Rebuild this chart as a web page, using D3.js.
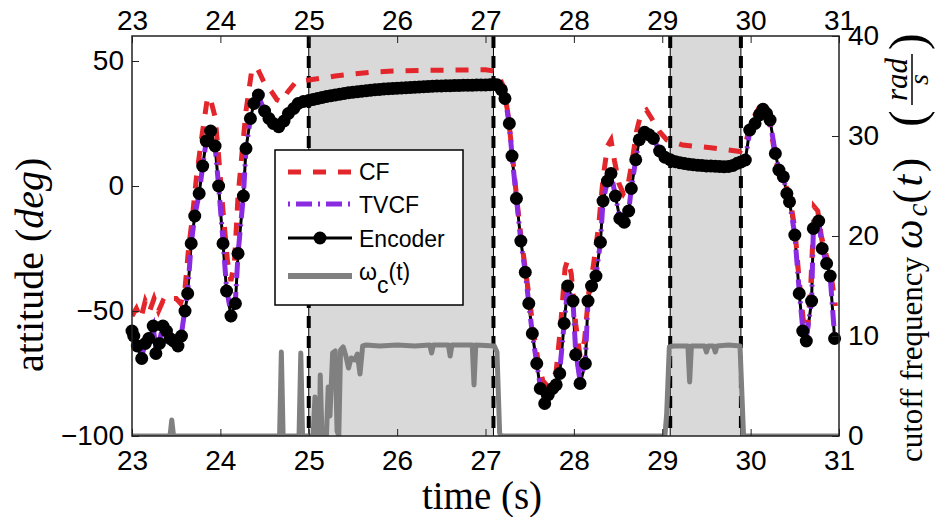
<!DOCTYPE html>
<html>
<head>
<meta charset="utf-8">
<script src="https://cdn.jsdelivr.net/npm/d3@7"></script>
<style>
  body { margin: 0; background: #fff; }
  svg { display: block; }
</style>
</head>
<body>
<svg id="chart" width="935" height="517"></svg>
<script>
// ---- data -------------------------------------------------------------
// Encoder reference attitude (deg)
const encoderTime = [
  23.00, 23.02, 23.06, 23.11, 23.15, 23.19, 23.24, 23.27, 23.31, 23.35, 23.39, 23.43,
  23.47, 23.52, 23.56, 23.60, 23.63, 23.67, 23.71, 23.76, 23.80, 23.84, 23.89, 23.94,
  23.98, 24.03, 24.07, 24.12, 24.17, 24.20, 24.26, 24.29, 24.34, 24.38, 24.43, 24.50,
  24.55, 24.60, 24.66, 24.72, 24.77, 24.83, 24.88, 24.94,
  25.00, 25.05, 25.10, 25.15, 25.20, 25.25, 25.30, 25.35, 25.40, 25.45, 25.50, 25.55,
  25.60, 25.65, 25.70, 25.75, 25.80, 25.85, 25.90, 25.95, 26.00, 26.05, 26.10, 26.15,
  26.20, 26.25, 26.30, 26.35, 26.40, 26.45, 26.50, 26.55, 26.60, 26.65, 26.70, 26.75,
  26.80, 26.85, 26.90, 26.95, 27.00, 27.05, 27.09,
  27.13, 27.18, 27.22, 27.27, 27.30, 27.35, 27.40, 27.45, 27.49, 27.53, 27.58, 27.62,
  27.67, 27.71, 27.76, 27.80, 27.84, 27.89, 27.93, 27.99, 28.02, 28.07, 28.13, 28.16,
  28.20, 28.25, 28.30, 28.33, 28.38, 28.42, 28.47, 28.52, 28.57, 28.62, 28.65, 28.70,
  28.74, 28.80, 28.85, 28.90, 28.97, 29.03, 29.09,
  29.15, 29.20, 29.25, 29.30, 29.35, 29.40, 29.45, 29.50, 29.55, 29.60, 29.65, 29.70,
  29.75, 29.80, 29.85, 29.89,
  29.94, 29.99, 30.05, 30.10, 30.14, 30.18, 30.22, 30.28, 30.32, 30.37, 30.41, 30.44,
  30.50, 30.55, 30.59, 30.63, 30.69, 30.71, 30.77, 30.81, 30.86, 30.90, 30.95
];
const encoderValue = [
  -58, -60, -64, -69, -63, -61, -56, -67, -63, -56, -58, -61,
  -62, -64, -60, -50, -43, -23, -12, -3, 8, 18, 22, 16,
  0, -23, -42, -52, -47, -27, -4, 15, 27, 33, 36.4, 30,
  27, 25, 23.7, 26, 29, 31, 33, 33.8,
  34.2, 34.6, 35.0, 35.4, 35.8, 36.1, 36.4, 36.7, 37.0, 37.3, 37.5, 37.7,
  37.9, 38.1, 38.3, 38.5, 38.6, 38.8, 38.9, 39.0, 39.1, 39.2, 39.3, 39.4,
  39.5, 39.6, 39.7, 39.8, 39.9, 40.0, 40.0, 40.1, 40.1, 40.2, 40.2, 40.3,
  40.3, 40.3, 40.4, 40.4, 40.4, 40.5, 40.6,
  40.5, 38.5, 35, 25, 12, -5, -22, -34.5, -47, -59, -71, -81,
  -87, -83.5, -81, -79.5, -75, -55, -40, -46, -67.5, -79, -71, -46,
  -40, -36, -22.5, -6, 2, 5, -4, -13, -14.5, -10, -1, 10.5,
  18.5, 21.5, 20.5, 19, 14, 11.5, 10.5,
  9.7, 9.3, 9.0, 8.7, 8.5, 8.3, 8.2, 8.0, 8.0, 7.9, 7.8, 7.7,
  7.8, 8.2, 9.1, 9.6,
  10.4, 22.4, 25, 28.5, 30.7, 29, 26.4, 13, 6.4, 3.7, -3, -6.3,
  -19.6, -43, -58, -62, -46, -17, -14, -25, -31, -36, -61
];

// Time-varying complementary filter estimate (deg)
const tvcfTime = encoderTime;
const tvcfValue = [
  -57, -60, -64, -68, -63, -60, -56, -66, -62, -56, -58, -61,
  -62, -63, -59, -49, -42, -23, -12, -3, 8, 18, 21.5, 16,
  0, -22, -41, -51, -46, -27, -4, 15, 27, 33, 36, 30,
  27, 25, 24, 26, 29, 31, 33, 33.8,
  34.2, 34.6, 35.0, 35.4, 35.8, 36.1, 36.4, 36.7, 37.0, 37.3, 37.5, 37.7,
  37.9, 38.1, 38.3, 38.5, 38.6, 38.8, 38.9, 39.0, 39.1, 39.2, 39.3, 39.4,
  39.5, 39.6, 39.7, 39.8, 39.9, 40.0, 40.0, 40.1, 40.1, 40.2, 40.2, 40.3,
  40.3, 40.3, 40.4, 40.4, 40.4, 40.5, 40.6,
  40.4, 38.5, 35, 25, 12, -5, -22, -34.5, -47, -59, -71, -80,
  -85, -83, -80.5, -79, -74, -55, -41, -46, -66, -78, -70, -46,
  -40, -36, -22.5, -6, 2, 5, -4, -13, -14, -10, -1, 10.5,
  18.5, 21.5, 20.5, 19, 14, 11.5, 10.5,
  9.7, 9.3, 9.0, 8.7, 8.5, 8.3, 8.2, 8.0, 8.0, 7.9, 7.8, 7.7,
  7.8, 8.2, 9.1, 9.6,
  10.6, 22, 25, 28.5, 30.5, 29, 26, 13, 6.4, 3.7, -3, -6.3,
  -19.6, -42, -57, -61, -46, -17, -14, -25, -31, -36, -60
];

// Fixed-gain complementary filter estimate (deg)
const cfTime = [
  23.00, 23.05, 23.10, 23.15, 23.20, 23.25, 23.30, 23.35, 23.40, 23.45, 23.50, 23.55,
  23.60, 23.64, 23.68, 23.73, 23.79, 23.85, 23.88, 23.94, 23.98, 24.03, 24.08, 24.12,
  24.16, 24.20, 24.25, 24.29, 24.35, 24.41, 24.46, 24.50, 24.58, 24.64, 24.69, 24.76,
  24.84, 24.92, 25.00, 25.15, 25.30, 25.50, 25.70, 25.90, 26.10, 26.40, 26.70, 27.00,
  27.10, 27.15, 27.20, 27.25, 27.30, 27.35, 27.40, 27.45, 27.50, 27.55, 27.60, 27.65,
  27.70, 27.75, 27.80, 27.85, 27.90, 27.93, 27.97, 28.02, 28.07, 28.12, 28.17, 28.22,
  28.28, 28.33, 28.38, 28.42, 28.46, 28.51, 28.56, 28.61, 28.66, 28.71, 28.76, 28.82,
  28.88, 28.97, 29.05, 29.23, 29.40, 29.55, 29.70, 29.88,
  29.95, 30.00, 30.05, 30.10, 30.15, 30.20, 30.25, 30.30, 30.35, 30.40, 30.45, 30.50,
  30.55, 30.60, 30.64, 30.68, 30.72, 30.76, 30.80, 30.85, 30.90, 30.96
];
const cfValue = [
  -52, -49, -53, -46, -50, -45, -50, -46, -47, -45, -45, -47,
  -41, -25, -13.6, 3.7, 19.7, 34.4, 35.7, 27.7, 12, -10, -30, -38,
  -30, -4, 15, 30, 45, 47.7, 44, 41, 37.7, 34.5, 33.7, 37.5,
  41, 42, 42.4, 43.2, 44, 44.8, 45.5, 45.9, 46.1, 46.3, 46.4, 46.5,
  46, 44, 40, 30, 14, -4, -20, -33, -46, -60, -71, -78,
  -80, -78.5, -74, -56, -33, -29.6, -35, -55, -68, -62, -42, -32,
  -16, 3, 16, 18.4, 10, 1, -3, 0, 10, 22, 29, 30.4,
  27, 21.7, 18.5, 16.4, 15.8, 15.3, 14.6, 13.8,
  18, 25, 28.5, 31.5, 32.4, 28, 18, 8, 5, 0, -6, -17,
  -38, -55, -59, -40, -8.3, -10, -20, -27, -33, -48
];

// Cutoff frequency of the time-varying filter (rad/s)
const cutoffTime = [
  23.00, 23.43, 23.45, 23.47, 24.67, 24.69, 24.71, 24.89, 24.91, 24.93,
  25.05, 25.07, 25.09, 25.12, 25.13, 25.15, 25.20, 25.22, 25.24, 25.27, 25.30, 25.32,
  25.34, 25.36, 25.39, 25.42, 25.45, 25.48, 25.52, 25.55, 25.58, 25.61, 25.65,
  25.80, 26.00, 26.20, 26.37, 26.39, 26.41, 26.58, 26.60, 26.62, 26.85, 26.87, 26.89,
  27.10, 27.13, 27.16, 27.18,
  29.03, 29.05, 29.08, 29.12, 29.29, 29.31, 29.33, 29.48, 29.50, 29.52, 29.58, 29.60,
  29.62, 29.75, 29.88, 29.92, 31.00
];
const cutoffValue = [
  0, 0, 1.6, 0, 0, 8.4, 0, 0, 8.3, 0,
  0, 3.9, 0, 0, 6.1, 0, 0, 4.9, 2, 8.3, 8.5, 0.5,
  0, 8.6, 8.9, 8.0, 6.8, 7.8, 7.6, 8.2, 6.2, 9.0, 9.1,
  9.0, 9.1, 9.0, 9.1, 8.3, 9.1, 9.1, 8.0, 9.1, 9.1, 5.1, 9.1,
  9.0, 8.4, 0.3, 0,
  0, 2.2, 8.9, 9.0, 9.0, 5.4, 9.0, 9.0, 8.4, 9.0, 9.0, 8.4,
  9.0, 9.1, 9.0, 0, 0
];

// Intervals where the filter is active, with their boundary markers
const activeStart = [25.00, 29.09];
const activeEnd = [27.09, 29.89];

const timeTicks = [23, 24, 25, 26, 27, 28, 29, 30, 31];
const attitudeTicks = [-100, -50, 0, 50];
const cutoffTicks = [0, 10, 20, 30, 40];
const legendNames = ["CF", "TVCF", "Encoder", "ωc(t)"];

// ---- layout -----------------------------------------------------------
const svg = d3.select("#chart");
const plot = { left: 132, right: 839, top: 36, bottom: 436 };
const sans = "'Liberation Sans', Arial, Helvetica, sans-serif";
const serif = "'Liberation Serif', 'Times New Roman', Times, serif";

const x = d3.scaleLinear().domain([23, 31]).range([plot.left, plot.right]);
const yAtt = d3.scaleLinear().domain([-100, 60]).range([plot.bottom, plot.top]);
const yCut = d3.scaleLinear().domain([0, 40]).range([plot.bottom, plot.top]);

svg.append("defs").append("clipPath").attr("id", "plot-clip")
  .append("rect")
  .attr("x", plot.left).attr("y", plot.top)
  .attr("width", plot.right - plot.left).attr("height", plot.bottom - plot.top);

const body = svg.append("g").attr("clip-path", "url(#plot-clip)");

// shaded active intervals
const spans = d3.zip(activeStart, activeEnd);
body.selectAll("rect.span").data(spans).join("rect")
  .attr("class", "span")
  .attr("x", d => x(d[0]))
  .attr("width", d => x(d[1]) - x(d[0]))
  .attr("y", plot.top).attr("height", plot.bottom - plot.top)
  .attr("fill", "#d9d9d9");

// boundary markers: thin solid line under a heavy dashed line
const bounds = activeStart.concat(activeEnd);
body.selectAll("line.bound-thin").data(bounds).join("line")
  .attr("class", "bound-thin")
  .attr("x1", d => x(d)).attr("x2", d => x(d))
  .attr("y1", plot.top).attr("y2", plot.bottom)
  .attr("stroke", "#000").attr("stroke-width", 1);
body.selectAll("line.bound-dash").data(bounds).join("line")
  .attr("class", "bound-dash")
  .attr("x1", d => x(d)).attr("x2", d => x(d))
  .attr("y1", plot.top).attr("y2", plot.bottom)
  .attr("stroke", "#000").attr("stroke-width", 4)
  .attr("stroke-dasharray", "12,8");

// cutoff frequency (right axis)
const cutoffLine = d3.line().x(d => x(d[0])).y(d => yCut(d[1]));
body.append("path")
  .datum(d3.zip(cutoffTime, cutoffValue))
  .attr("d", cutoffLine)
  .attr("fill", "none").attr("stroke", "#808080")
  .attr("stroke-width", 5).attr("stroke-linejoin", "round");

// attitude series (left axis)
const attLine = d3.line().x(d => x(d[0])).y(d => yAtt(d[1]));
const encoderData = d3.zip(encoderTime, encoderValue);

body.append("path")
  .datum(encoderData)
  .attr("d", attLine)
  .attr("fill", "none").attr("stroke", "#000").attr("stroke-width", 3);

svg.append("g").selectAll("circle").data(encoderData).join("circle")
  .attr("cx", d => x(d[0])).attr("cy", d => yAtt(d[1]))
  .attr("r", 6.5).attr("fill", "#000");

body.append("path")
  .datum(d3.zip(cfTime, cfValue))
  .attr("d", attLine)
  .attr("fill", "none").attr("stroke", "#e3262b")
  .attr("stroke-width", 5).attr("stroke-dasharray", "13,12");

body.append("path")
  .datum(d3.zip(tvcfTime, tvcfValue))
  .attr("d", attLine)
  .attr("fill", "none").attr("stroke", "#8a2be2")
  .attr("stroke-width", 5).attr("stroke-dasharray", "16,6,2,6");

// ---- axes -------------------------------------------------------------
function styleAxis(g) {
  g.select(".domain").remove();
  g.selectAll(".tick line").attr("stroke", "#222").attr("stroke-width", 1);
  g.selectAll(".tick text").attr("fill", "#000")
    .style("font-family", sans).style("font-size", "28px");
}
const fmt = d => (d < 0 ? "\u2212" + Math.abs(d) : String(d));

svg.append("g").attr("transform", `translate(0,${plot.bottom})`)
  .call(d3.axisBottom(x).tickValues(timeTicks).tickFormat(fmt).tickSize(-7).tickPadding(14))
  .call(styleAxis);
svg.append("g").attr("transform", `translate(0,${plot.top})`)
  .call(d3.axisTop(x).tickValues(timeTicks).tickFormat(fmt).tickSize(-7).tickPadding(6))
  .call(styleAxis);
svg.append("g").attr("transform", `translate(${plot.left},0)`)
  .call(d3.axisLeft(yAtt).tickValues(attitudeTicks).tickFormat(fmt).tickSize(-7).tickPadding(8))
  .call(styleAxis);
svg.append("g").attr("transform", `translate(${plot.right},0)`)
  .call(d3.axisRight(yCut).tickValues(cutoffTicks).tickFormat(fmt).tickSize(-7).tickPadding(9))
  .call(styleAxis);

svg.append("rect")
  .attr("x", plot.left).attr("y", plot.top)
  .attr("width", plot.right - plot.left).attr("height", plot.bottom - plot.top)
  .attr("fill", "none").attr("stroke", "#222").attr("stroke-width", 1.5);

// ---- axis titles ------------------------------------------------------
svg.append("text")
  .attr("x", 482).attr("y", 509)
  .attr("text-anchor", "middle")
  .style("font-family", serif).style("font-size", "39px")
  .text("time (s)");

const leftTitle = svg.append("text")
  .attr("transform", "translate(43,372) rotate(-90)")
  .style("font-family", serif).style("font-size", "40px");
leftTitle.append("tspan").text("attitude (");
leftTitle.append("tspan").style("font-style", "italic").text("deg");
leftTitle.append("tspan").text(")");

// right title: words and symbol in one line, then a (rad / s) fraction
const rightTitle = svg.append("g").attr("transform", "translate(922,462) rotate(-90)");
const rt = rightTitle.append("text")
  .attr("x", 0).attr("y", 0)
  .style("font-family", serif).style("font-size", "31px");
rt.append("tspan").text("cutoff frequency ");
rt.append("tspan").style("font-style", "italic").style("font-size", "42px")
  .style("letter-spacing", "3px").text("ω");
rt.append("tspan").style("font-style", "italic").style("font-size", "29px")
  .attr("dy", 5).text("c");
rt.append("tspan").style("font-size", "42px").style("letter-spacing", "3px")
  .attr("dy", -5).text("(");
rt.append("tspan").style("font-style", "italic").style("font-size", "42px")
  .style("letter-spacing", "3px").text("t");
rt.append("tspan").style("font-size", "42px").text(")");

const fracX = 335;
rightTitle.append("text").attr("x", fracX).attr("y", 2)
  .style("font-family", serif).style("font-size", "50px").text("(");
const numer = rightTitle.append("text").attr("x", fracX + 26).attr("y", -15)
  .style("font-family", serif).style("font-size", "31px").style("font-style", "italic")
  .text("rad");
const numW = Math.min(60, Math.max(36, numer.node().getComputedTextLength()));
rightTitle.append("line")
  .attr("x1", fracX + 22).attr("x2", fracX + 30 + numW)
  .attr("y1", -10).attr("y2", -10)
  .attr("stroke", "#000").attr("stroke-width", 1.5);
rightTitle.append("text").attr("x", fracX + 26 + numW / 2).attr("y", 6)
  .attr("text-anchor", "middle")
  .style("font-family", serif).style("font-size", "28px").style("font-style", "italic")
  .text("s");
rightTitle.append("text").attr("x", fracX + 34 + numW).attr("y", 2)
  .style("font-family", serif).style("font-size", "50px").text(")");

// ---- legend -----------------------------------------------------------
const legend = svg.append("g");
legend.append("rect")
  .attr("x", 275).attr("y", 150).attr("width", 188).attr("height", 155)
  .attr("fill", "#fff").attr("stroke", "#000").attr("stroke-width", 1.5);

const sampleY = [172, 204, 238, 276];
const textY = [180, 213, 247, 280];
const sampleStyles = [
  { stroke: "#e3262b", width: 5, dash: "13,12" },
  { stroke: "#8a2be2", width: 5, dash: "2,6,16,6" },
  { stroke: "#000", width: 3, dash: null },
  { stroke: "#808080", width: 6, dash: null }
];
legendNames.forEach((name, i) => {
  const st = sampleStyles[i];
  legend.append("line")
    .attr("x1", 288).attr("x2", 352)
    .attr("y1", sampleY[i]).attr("y2", sampleY[i])
    .attr("stroke", st.stroke).attr("stroke-width", st.width)
    .attr("stroke-dasharray", st.dash);
  if (name === "Encoder") {
    legend.append("circle").attr("cx", 320).attr("cy", sampleY[i]).attr("r", 6.5).attr("fill", "#000");
  }
  const t = legend.append("text").attr("x", 359).attr("y", textY[i])
    .style("font-family", sans).style("font-size", "23px");
  if (name === "ωc(t)") {
    t.append("tspan").text("ω");
    t.append("tspan").attr("dy", 13).text("c");
    t.append("tspan").attr("dy", -13).text("(t)");
  } else {
    t.text(name);
  }
});
</script>
</body>
</html>
